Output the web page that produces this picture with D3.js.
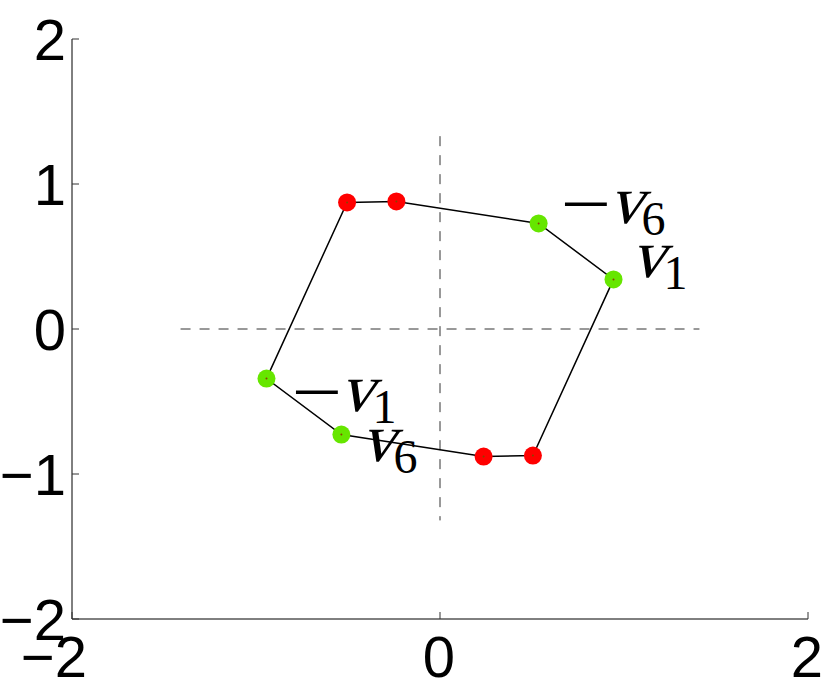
<!DOCTYPE html>
<html>
<head>
<meta charset="utf-8">
<script src="https://cdn.jsdelivr.net/npm/d3@7"></script>
<style>
  html, body { margin: 0; padding: 0; background: #fff; }
  svg { display: block; }
</style>
</head>
<body>
<svg id="chart" width="830" height="681"></svg>
<script>
// ---- data ----
const yTicks = [-2, -1, 0, 1, 2];
const yTickLabels = ["\u22122", "\u22121", "0", "1", "2"];
const xTicks = [-2, 0, 2];
const xTickLabels = ["\u22122", "0", "2"];
const ptX = [-0.943, -0.505, -0.237, 0.536, 0.943, 0.505, 0.237, -0.536];
const ptY = [-0.342, 0.873, 0.880, 0.728, 0.342, -0.873, -0.880, -0.728];
const ptKind = ["g", "r", "r", "g", "g", "r", "r", "g"];
const labelMinus = [true, false, true, false];
const labelSub = ["6", "1", "1", "6"];
const labelX = [0.536, 0.943, -0.943, -0.536];
const labelY = [0.728, 0.342, -0.342, -0.728];
const hDash = [-1.41, 1.41];
const vDash = [-1.32, 1.33];

const svg = d3.select("#chart");
const x = d3.scaleLinear().domain([-2, 2]).range([72, 808]);
const y = d3.scaleLinear().domain([-2, 2]).range([619, 39]);
const color = { g: "#66e600", r: "#ff0000" };

// axes lines
const axG = svg.append("g");
axG.append("line").attr("x1", x(-2)).attr("x2", x(-2)).attr("y1", y(-2)).attr("y2", y(2))
  .attr("stroke", "#000").attr("stroke-width", 1);
axG.append("line").attr("x1", x(-2)).attr("x2", x(2)).attr("y1", y(-2)).attr("y2", y(-2))
  .attr("stroke", "#000").attr("stroke-width", 1);
const tickFont = "'Liberation Sans', Arial, Helvetica, sans-serif";
yTicks.forEach((t, i) => {
  axG.append("line").attr("x1", x(-2)).attr("x2", x(-2) + 7).attr("y1", y(t)).attr("y2", y(t))
    .attr("stroke", "#333").attr("stroke-width", 1);
  axG.append("text").attr("x", x(-2) - 6).attr("y", y(t) + 21)
    .attr("text-anchor", "end").attr("font-family", tickFont).attr("font-size", 58)
    .text(yTickLabels[i]);
});
xTicks.forEach((t, i) => {
  axG.append("line").attr("x1", x(t)).attr("x2", x(t)).attr("y1", y(-2)).attr("y2", y(-2) - 7)
    .attr("stroke", "#333").attr("stroke-width", 1);
  axG.append("text").attr("x", x(t) + 15).attr("y", 677)
    .attr("text-anchor", "end").attr("font-family", tickFont).attr("font-size", 58)
    .text(xTickLabels[i]);
});

// dashed cross
svg.append("line").attr("x1", x(hDash[0])).attr("x2", x(hDash[1])).attr("y1", y(0)).attr("y2", y(0))
  .attr("stroke", "#333").attr("stroke-width", 1).attr("stroke-dasharray", "10,9");
svg.append("line").attr("x1", x(0)).attr("x2", x(0)).attr("y1", y(vDash[1])).attr("y2", y(vDash[0]))
  .attr("stroke", "#333").attr("stroke-width", 1).attr("stroke-dasharray", "10,9");

// polygon
const pts = ptX.map((v, i) => [v, ptY[i], ptKind[i]]);
const line = d3.line().x(d => x(d[0])).y(d => y(d[1])).curve(d3.curveLinearClosed);
svg.append("path").attr("d", line(pts)).attr("fill", "none")
  .attr("stroke", "#000").attr("stroke-width", 1.5);

// markers
svg.selectAll("circle.pt").data(pts).enter().append("circle").attr("class", "pt")
  .attr("cx", d => x(d[0])).attr("cy", d => y(d[1])).attr("r", 9)
  .attr("fill", d => color[d[2]]);
svg.selectAll("circle.ctr").data(pts).enter().append("circle").attr("class", "ctr")
  .attr("cx", d => x(d[0])).attr("cy", d => y(d[1])).attr("r", 1)
  .attr("fill", "#884400");

// math labels
const offsets = [[22, 0], [17, -2], [25, 32], [19, 26]];
const mathFont = "'Liberation Serif', 'Times New Roman', serif";
labelSub.forEach((sub, i) => {
  const bx = x(labelX[i]) + offsets[i][0];
  const by = y(labelY[i]) + offsets[i][1];
  const g = svg.append("g").attr("transform", `translate(${bx},${by})`);
  let vx = 0;
  if (labelMinus[i]) {
    g.append("text").attr("transform", "translate(0,5) scale(1.25,1)")
      .attr("font-family", mathFont).attr("font-size", 72)
      .text("\u2212");
    vx = 48;
  }
  g.append("text").attr("transform", `translate(${vx},0) skewX(-16)`)
    .attr("font-family", mathFont).attr("font-size", 68).text("v");
  g.append("text").attr("x", vx + 33).attr("y", 12)
    .attr("font-family", mathFont).attr("font-size", 48).text(sub);
});
</script>
</body>
</html>
